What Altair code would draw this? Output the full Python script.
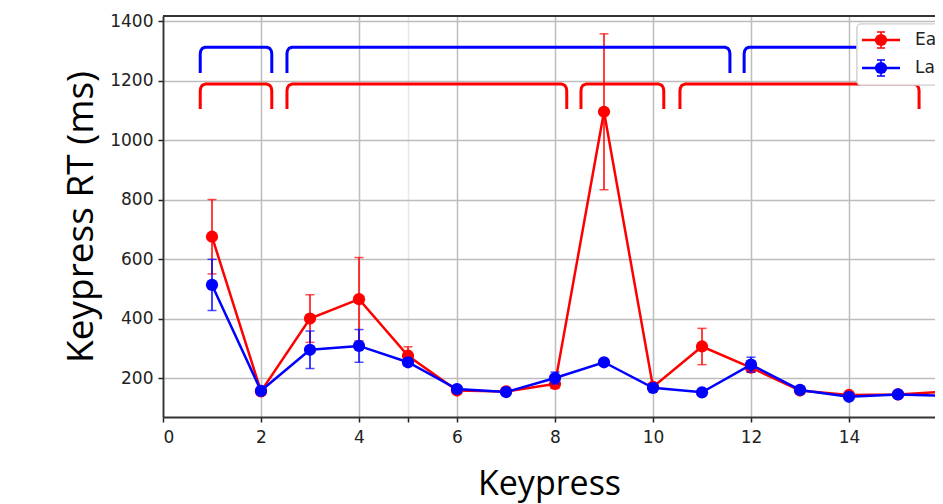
import altair as alt
import pandas as pd

# ---- data ----
keypress = list(range(1, 17))
early_rt = [675, 155, 400, 465, 275, 158, 155, 180, 1095, 170, 306, 235, 158, 143, 145, 155]
early_err = [125, 8, 80, 140, 30, 8, 8, 15, 262, 8, 61, 15, 8, 8, 8, 8]
late_rt = [513, 157, 295, 308, 253, 163, 153, 200, 253, 167, 152, 245, 160, 137, 145, 140]
late_err = [86, 8, 63, 55, 10, 8, 8, 20, 8, 8, 8, 25, 8, 8, 8, 8]
groups = ["Early", "Late"]
colors = ["#ff0000", "#0000ff"]

# brackets: group, start, end, top level, bottom level
br_group = ["Late", "Late", "Late", "Early", "Early", "Early", "Early"]
br_start = [0.76, 2.53, 11.86, 0.76, 2.53, 8.53, 10.55]
br_end = [2.22, 11.57, 16.6, 2.22, 8.24, 10.22, 15.43]
br_top = [1312, 1312, 1312, 1188, 1188, 1188, 1188]
br_bot = [1225, 1225, 1225, 1104, 1104, 1104, 1104]

W, H = 772, 401
XDOM = [0, W / 49.0]
YDOM = [69, 1417]

rows = []
for g, rts, errs in [("Early", early_rt, early_err), ("Late", late_rt, late_err)]:
    for k, r, e in zip(keypress, rts, errs):
        rows.append({"keypress": k, "rt": r, "lo": r - e, "hi": r + e, "group": g})
df = pd.DataFrame(rows)

# bracket polylines (rounded-looking corners)
brow = []
for i, (g, s, e, t, b) in enumerate(zip(br_group, br_start, br_end, br_top, br_bot)):
    pts = [(s, b), (s, t - 22), (s + 0.01, t - 12), (s + 0.04, t - 4), (s + 0.1, t),
           (e - 0.1, t), (e - 0.04, t - 4), (e - 0.01, t - 12), (e, t - 22), (e, b)]
    for j, (x, y) in enumerate(pts):
        brow.append({"id": i, "order": j, "x": x, "y": y, "group": g})
bdf = pd.DataFrame(brow)

color_scale = alt.Scale(domain=groups, range=colors)
xs = alt.Scale(domain=XDOM, nice=False, zero=False)
ys = alt.Scale(domain=YDOM, nice=False, zero=False)

x_axis = alt.Axis(
    values=[0, 2, 4, 5, 6, 8, 10, 12, 14],
    labelExpr="datum.value == 5 ? '' : datum.label",
    title="Keypress",
    titleFont="Open Sans", titleFontSize=34, titleFontWeight="normal", titleColor="#000",
    titlePadding=22,
    labelFont="DejaVu Sans", labelFontSize=17, labelColor="#222", labelPadding=7,
    tickSize=5, tickColor="#222", tickWidth=1.5,
    domainColor="#333", domainWidth=1.8,
    gridColor={"condition": {"test": "datum.value === 5", "value": "#e8e8e8"}, "value": "#bdbdbd"},
    gridWidth=1.5,
)
y_axis = alt.Axis(
    values=[200, 400, 600, 800, 1000, 1200, 1400],
    format="d",
    title="Keypress RT (ms)",
    titleFont="Open Sans", titleFontSize=37, titleFontWeight="normal", titleColor="#000",
    titlePadding=9,
    labelFont="DejaVu Sans", labelFontSize=17, labelColor="#222", labelPadding=5,
    tickSize=5, tickColor="#222", tickWidth=1.5,
    domainColor="#333", domainWidth=1.8,
    gridColor="#bdbdbd", gridWidth=1.5,
)

base_axes = alt.Chart(df).mark_point(opacity=0).encode(
    x=alt.X("keypress:Q", scale=xs, axis=x_axis),
    y=alt.Y("rt:Q", scale=ys, axis=y_axis),
)

top_spine = alt.Chart(df).mark_rule(color="#333", strokeWidth=1.8).encode(
    x=alt.value(0), x2=alt.value(W), y=alt.value(0)
)

layers = [base_axes, top_spine]

for g in groups:
    d = df[df.group == g]
    c = alt.Chart(d)
    col = alt.Color("group:N", scale=color_scale, legend=None)
    layers.append(c.mark_line(strokeWidth=2.5, clip=True).encode(
        x=alt.X("keypress:Q", scale=xs), y=alt.Y("rt:Q", scale=ys), color=col))
    layers.append(c.mark_rule(strokeWidth=1.5, clip=True).encode(
        x=alt.X("keypress:Q", scale=xs), y=alt.Y("lo:Q", scale=ys), y2="hi:Q", color=col))
    for f in ["lo", "hi"]:
        layers.append(c.mark_tick(orient="horizontal", size=9, thickness=1.5, clip=True).encode(
            x=alt.X("keypress:Q", scale=xs), y=alt.Y(f"{f}:Q", scale=ys), color=col))
    layers.append(c.mark_circle(size=150, opacity=1, clip=True).encode(
        x=alt.X("keypress:Q", scale=xs), y=alt.Y("rt:Q", scale=ys), color=col))

brackets = alt.Chart(bdf).mark_line(strokeWidth=3, clip=True, strokeJoin="round").encode(
    x=alt.X("x:Q", scale=xs), y=alt.Y("y:Q", scale=ys),
    detail="id:N", order="order:Q",
    color=alt.Color("group:N", scale=color_scale, legend=None),
)
layers.append(brackets)

# legend (matplotlib-style box, cropped at the right edge like the reference)
leg_df = pd.DataFrame({"group": groups})
LX, LY = 694, 8
layers.append(alt.Chart(leg_df).mark_rect(
    fill="white", fillOpacity=0.85, stroke="#d0d0d0", strokeWidth=1.2, cornerRadius=4
).encode(x=alt.value(LX), x2=alt.value(LX + 140), y=alt.value(LY), y2=alt.value(LY + 61)))
for i, (g, c) in enumerate(zip(groups, colors)):
    yy = LY + 16 + 28 * i
    one = alt.Chart(leg_df[leg_df.group == g])
    layers.append(one.mark_rule(color=c, strokeWidth=2.5).encode(
        x=alt.value(LX + 5), x2=alt.value(LX + 43), y=alt.value(yy)))
    layers.append(one.mark_rule(color=c, strokeWidth=1.5).encode(
        x=alt.value(LX + 24), y=alt.value(yy - 8), y2=alt.value(yy + 8)))
    for dy in (-8, 8):
        layers.append(one.mark_rule(color=c, strokeWidth=1.5).encode(
            x=alt.value(LX + 20), x2=alt.value(LX + 28), y=alt.value(yy + dy)))
    layers.append(one.mark_circle(color=c, size=150, opacity=1).encode(
        x=alt.value(LX + 24), y=alt.value(yy)))
    layers.append(one.mark_text(align="left", baseline="middle", font="DejaVu Sans",
                                fontSize=17, color="#222").encode(
        x=alt.value(LX + 58), y=alt.value(yy), text="group:N"))

chart = alt.layer(*layers).properties(
    width=W, height=H,
    autosize=alt.AutoSizeParams(type="none"),
    padding={"left": 155, "top": 8, "right": 0, "bottom": 87},
).configure_view(stroke=None).configure(background="white")

chart.save("out.html", embed_options={"renderer": "svg", "actions": False})
